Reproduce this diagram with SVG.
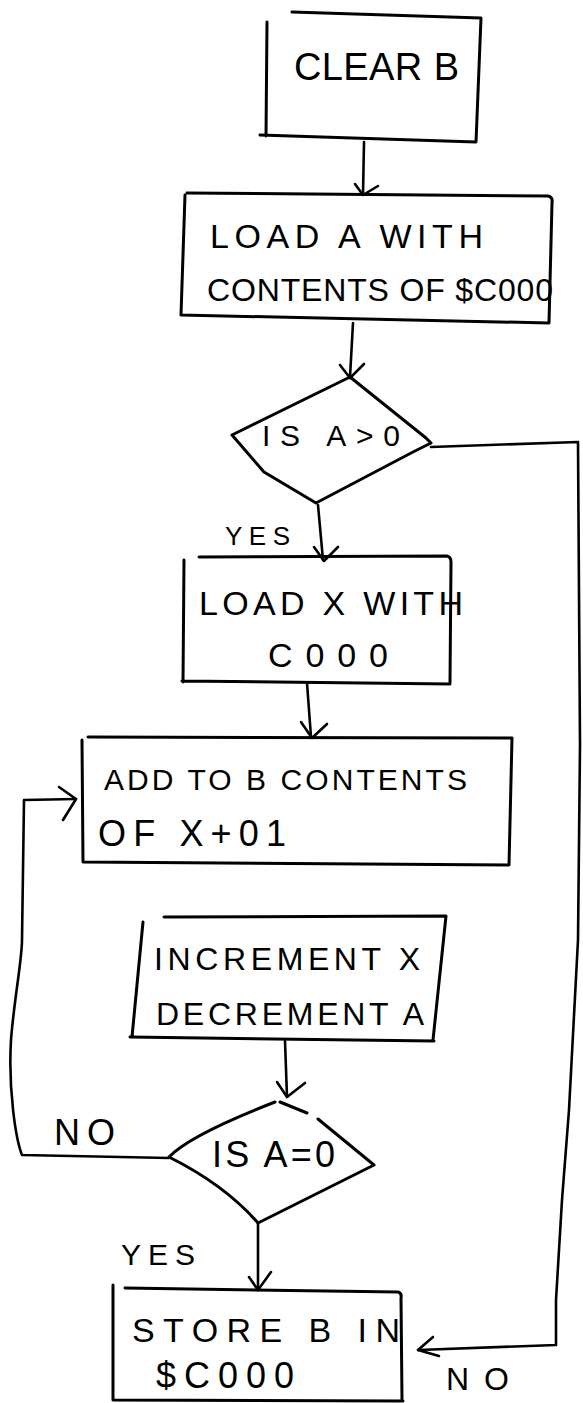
<svg xmlns="http://www.w3.org/2000/svg" width="583" height="1403" viewBox="0 0 583 1403">
<style>
.s{fill:none;stroke:#000;stroke-width:3;stroke-linejoin:round;stroke-linecap:round}
.c{fill:none;stroke:#000;stroke-width:2.6;stroke-linejoin:round;stroke-linecap:round}
.t{font-family:"Liberation Sans",Arial,sans-serif;fill:#000}
</style>
<rect width="583" height="1403" fill="#fff"/>
<g id="connectors">
<path class="c" d="M364,142 L363,194"/><path class="c" d="M355,184 L363,195 L378,186"/>
<path class="c" d="M353,323 L350,377"/><path class="c" d="M340,365 L350,378 L364,364"/>
<path class="c" d="M431,447 L578,442 L580,745 L578,940 L569,1110 L562,1200 L556,1300 L556,1345 L418,1350"/><path class="c" d="M433,1337 L418,1350 L439,1356"/>
<path class="c" d="M318,505 L323,560"/><path class="c" d="M314,547 L324,561 L338,547"/>
<path class="c" d="M307,683 L311,737"/><path class="c" d="M301,722 L312,738 L327,724"/>
<path class="c" d="M285,1041 L287,1097"/><path class="c" d="M277,1082 L287,1097 L305,1083"/>
<path class="c" d="M169,1158 L22,1155 C16,1140 8,1090 11,1040 C14,1000 22,960 22,940 L24,800 L76,799"/><path class="c" d="M59,787 L76,799 L63,820"/>
<path class="c" d="M258,1223 L258,1290"/><path class="c" d="M249,1277 L258,1290 L271,1272"/>
<text class="t" x="225" y="545" font-size="26" textLength="65">YES</text>
<text class="t" x="446" y="1390" font-size="32" textLength="63">NO</text>
<text class="t" x="54" y="1145" font-size="36" textLength="61">NO</text>
<text class="t" x="121" y="1265" font-size="30" textLength="74">YES</text>
</g>
<g id="n1">
<path class="s" d="M267,22 L266,136 M292,12 L481,18 L476,142 M260,135 L476,142"/>
<text class="t" x="294" y="80" font-size="38" textLength="165">CLEAR B</text>
</g>
<g id="n2">
<path class="s" d="M187,193 L548,196 Q553,197 552,203 L549,323 L181,315 L185,195"/>
<text class="t" x="210" y="248" font-size="34" textLength="273">LOAD A WITH</text>
<text class="t" x="207" y="301" font-size="32" textLength="346">CONTENTS OF $C000</text>
</g>
<g id="n3">
<path class="s" d="M350,377 L426,438 L431,443 L413,452 L316,503 L264,472 L232,435 Z"/>
<text class="t" x="262" y="446" font-size="30" textLength="138">IS A&gt;0</text>
</g>
<g id="n4">
<path class="s" d="M184,560 L183,682 M199,557 L447,556 Q451,557 451,562 L450,683 M182,681 L450,684"/>
<text class="t" x="199" y="615" font-size="34" textLength="264">LOAD X WITH</text>
<text class="t" x="268" y="667" font-size="34" textLength="120">C000</text>
</g>
<g id="n5">
<path class="s" d="M88,737 L512,738 L509,865 L83,862 L82,740"/>
<text class="t" x="104" y="790" font-size="30" textLength="363">ADD TO B CONTENTS</text>
<text class="t" x="98" y="846" font-size="36" textLength="188">OF X+01</text>
</g>
<g id="n6">
<path class="s" d="M164,917 L446,916 L433,1040 M143,922 L132,1037 M130,1037 L434,1041"/>
<text class="t" x="154" y="970" font-size="32" textLength="266">INCREMENT X</text>
<text class="t" x="156" y="1025" font-size="32" textLength="268">DECREMENT A</text>
</g>
<g id="n7">
<path class="s" d="M275,1102 Q190,1135 169,1157 Q225,1185 258,1223 L374,1165 M280,1102 L307,1113 M318,1119 L374,1165"/>
<text class="t" x="212" y="1167" font-size="36" textLength="123">IS A=0</text>
</g>
<g id="n8">
<path class="s" d="M125,1288 L398,1292 Q402,1293 401,1298 L402,1400 M113,1285 L113,1400 L403,1401"/>
<text class="t" x="132" y="1342" font-size="34" textLength="268">STORE B IN</text>
<text class="t" x="156" y="1388" font-size="36" textLength="138">$C000</text>
</g>
</svg>
